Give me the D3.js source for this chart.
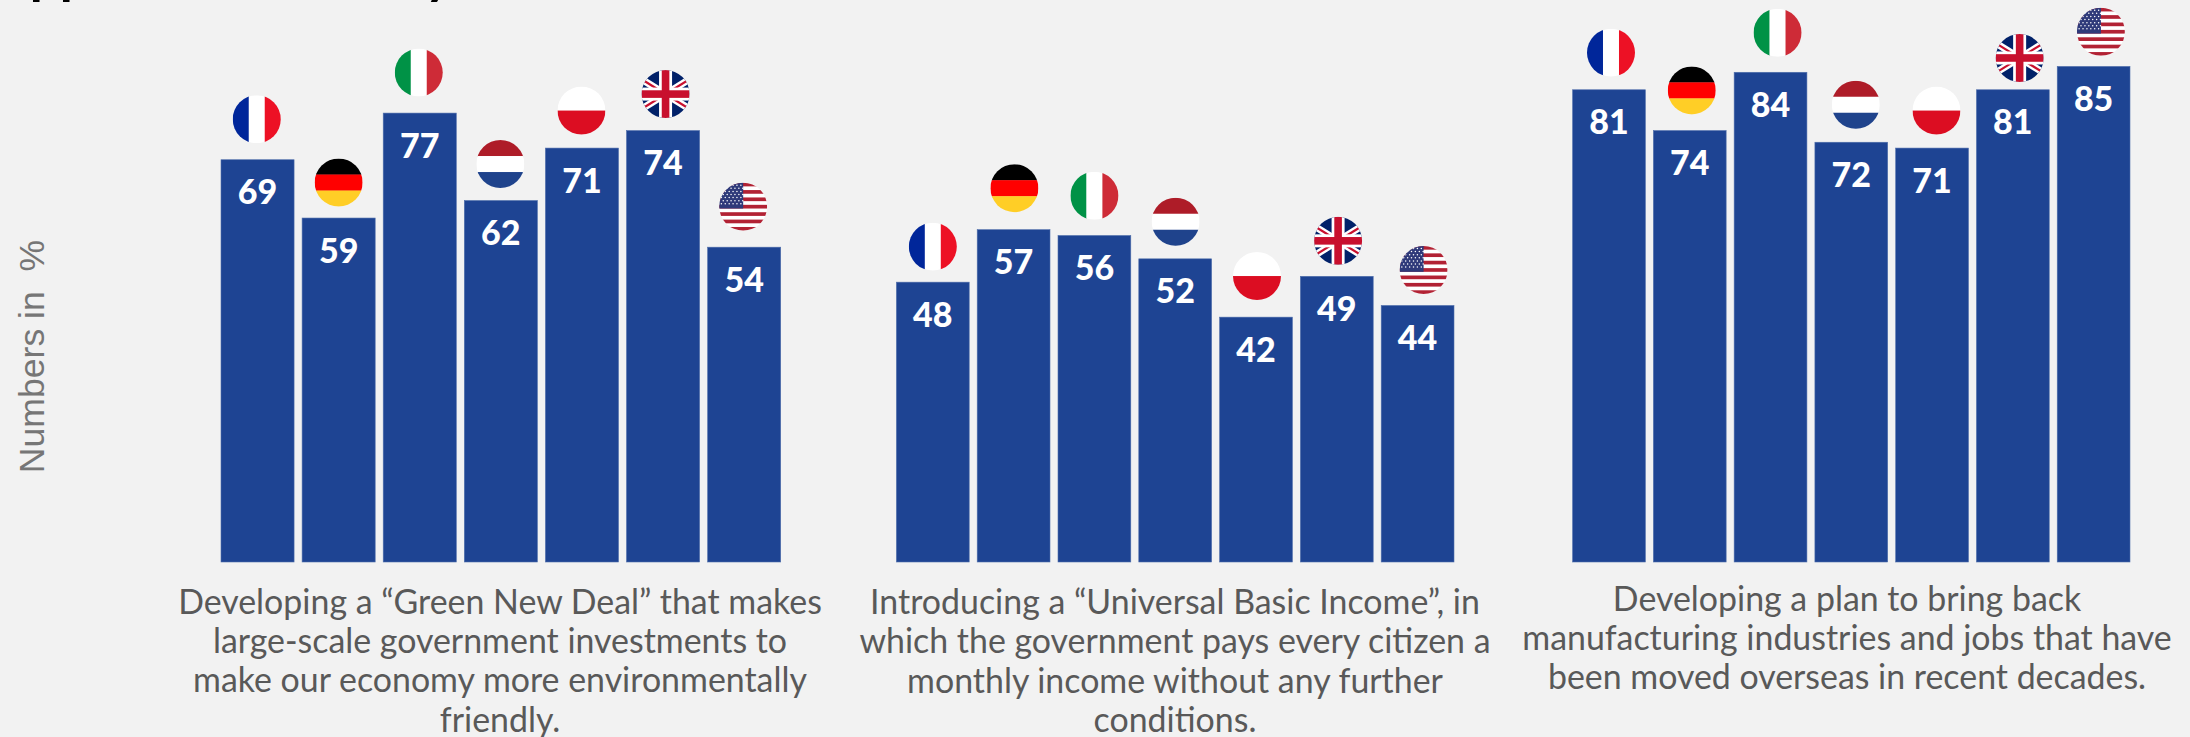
<!DOCTYPE html>
<html><head><meta charset="utf-8">
<script src="https://cdn.jsdelivr.net/npm/d3@7/dist/d3.min.js"></script>
<style>html,body{margin:0;padding:0;background:#f2f2f2;overflow:hidden}svg{display:block}</style>
</head><body><svg id="c" width="2190" height="737"></svg>
<script>
const countries = ["France","Germany","Italy","Netherlands","Poland","UK","USA"];
const greenNewDeal = [69,59,77,62,71,74,54];
const basicIncome = [48,57,56,52,42,49,44];
const reshoring = [81,74,84,72,71,81,85];
const labelGreen = ["Developing a “Green New Deal” that makes","large-scale government investments to","make our economy more environmentally","friendly."];
const labelIncome = ["Introducing a “Universal Basic Income”, in","which the government pays every citizen a","monthly income without any further","conditions."];
const labelReshore = ["Developing a plan to bring back","manufacturing industries and jobs that have","been moved overseas in recent decades."];
const axisTitle = "Numbers in\u00a0\u00a0%";
const titleText = "Approval of the key";

// layout
const W=2190,H=737, baseY=562, unit=5.83, R=24;
const y=d3.scaleLinear().domain([0,100]).range([baseY,baseY-100*unit]);
const groups=[
 {vals:greenNewDeal,label:labelGreen,range:[221,780.7],labelX:500,labelY:613.8,
  nudgeX:[-.8,0,-1,-.5,-.5,2.5,-1],lift:[40.5,35.5,40.5,36.5,37.5,36.5,40.5]},
 {vals:basicIncome,label:labelIncome,range:[896.4,1454],labelX:1175,labelY:614,
  nudgeX:[0,.8,0,.4,1,1.3,6],lift:[35.5,41.5,39.8,37.1,41.1,35.5,35.5]},
 {vals:reshoring,label:labelReshore,range:[1572.6,2130],labelX:1847,labelY:610.5,
  nudgeX:[2,2,7,4.5,4.4,6.8,7.3],lift:[37.1,40.2,39.5,37.5,37.5,31.8,34.7]}
];
const svg=d3.select("#c");
const defs=svg.append("defs");
defs.append("clipPath").attr("id","disc").append("circle").attr("r",R);

svg.append("text").attr("x",-7).attr("y",-7).attr("font-family","Lato").attr("font-weight",700)
  .attr("font-size",53).attr("fill","#000").text(titleText);

svg.append("text").attr("transform","translate(44,356.5) rotate(-90)").attr("text-anchor","middle")
  .attr("font-family","Liberation Sans").attr("font-size",35.6).attr("fill","#767676").text(axisTitle);

const flagArt={
 France(g){bandsV(g,["#00269a","#fff","#ed1125"]);},
 Germany(g){bandsH(g,["#000","#ff0000","#ffce26"]);},
 Italy(g){bandsV(g,["#009246","#fff","#ce2b37"]);},
 Netherlands(g){bandsH(g,["#ae1c28","#fff","#1f438c"]);},
 Poland(g){bandsH(g,["#fff","#dc0d22"]);},
 UK(g){
  g.append("rect").attr("x",-R).attr("y",-R).attr("width",2*R).attr("height",2*R).attr("fill","#012169");
  const D=[[-R,-R*.62,R,R*.62],[-R,R*.62,R,-R*.62]];
  g.selectAll(null).data(D).join("line").attr("x1",d=>d[0]).attr("y1",d=>d[1]).attr("x2",d=>d[2]).attr("y2",d=>d[3]).attr("stroke","#fff").attr("stroke-width",7);
  g.selectAll(null).data(D).join("line").attr("x1",d=>d[0]).attr("y1",d=>d[1]).attr("x2",d=>d[2]).attr("y2",d=>d[3]).attr("stroke","#c8102e").attr("stroke-width",2.2);
  g.append("rect").attr("x",-R).attr("y",-6.5).attr("width",2*R).attr("height",13).attr("fill","#fff");
  g.append("rect").attr("x",-6.5).attr("y",-R).attr("width",13).attr("height",2*R).attr("fill","#fff");
  g.append("rect").attr("x",-R).attr("y",-3.8).attr("width",2*R).attr("height",7.6).attr("fill","#c8102e");
  g.append("rect").attr("x",-3.8).attr("y",-R).attr("width",7.6).attr("height",2*R).attr("fill","#c8102e");
 },
 USA(g){
  const n=13,h=2*R/n;
  g.append("rect").attr("x",-R).attr("y",-R).attr("width",2*R).attr("height",2*R).attr("fill","#fff");
  g.selectAll(null).data(d3.range(0,n,2)).join("rect").attr("x",-R).attr("y",d=>-R+d*h).attr("width",2*R).attr("height",h).attr("fill","#b22234");
  g.append("rect").attr("x",-R).attr("y",-R).attr("width",R*1.0).attr("height",h*7).attr("fill","#2f3a7a");
  const stars=d3.cross(d3.range(6),d3.range(7));
  g.selectAll(null).data(stars).join("circle").attr("cx",d=>-R+2.2+d[0]*3.9+(d[1]%2)*1.9).attr("cy",d=>-R+2.5+d[1]*3.1).attr("r",.75).attr("fill","#fff");
 }
};
function bandsV(g,c){const w=2*R/c.length;g.selectAll(null).data(c).join("rect").attr("x",(d,i)=>-R+i*w).attr("y",-R).attr("width",w+.3).attr("height",2*R).attr("fill",d=>d);}
function bandsH(g,c){const h=2*R/c.length;g.selectAll(null).data(c).join("rect").attr("y",(d,i)=>-R+i*h).attr("x",-R).attr("height",h+.3).attr("width",2*R).attr("fill",d=>d);}

groups.forEach(gr=>{
  const x=d3.scaleBand().domain(countries).range(gr.range).paddingInner(0.099).paddingOuter(0);
  const data=countries.map((c,i)=>({c,v:gr.vals[i],nx:gr.nudgeX[i],lift:gr.lift[i]}));
  const G=svg.append("g");
  G.selectAll("rect.bar").data(data).join("rect").attr("class","bar")
    .attr("x",d=>x(d.c)).attr("y",d=>y(d.v)).attr("width",x.bandwidth()).attr("height",d=>baseY-y(d.v))
    .attr("fill","#1e4493").attr("stroke","#4f6eab").attr("stroke-width",.6);
  G.selectAll("text.val").data(data).join("text").attr("class","val")
    .attr("x",d=>x(d.c)+x.bandwidth()/2).attr("y",d=>y(d.v)+44.5).attr("text-anchor","middle")
    .attr("font-family","Lato").attr("font-weight",900).attr("font-size",34).attr("fill","#fff").text(d=>d.v);
  G.selectAll("g.flag").data(data).join("g").attr("class","flag")
    .attr("transform",d=>`translate(${x(d.c)+x.bandwidth()/2+d.nx},${y(d.v)-d.lift})`)
    .attr("clip-path","url(#disc)")
    .each(function(d){flagArt[d.c](d3.select(this));});
  svg.append("g").selectAll("text").data(gr.label).join("text")
    .attr("x",gr.labelX).attr("y",(d,i)=>gr.labelY+i*39.3).attr("text-anchor","middle")
    .attr("font-family","Lato").attr("font-size",33.9).attr("fill","#595959").text(d=>d);
});
</script></body></html>
